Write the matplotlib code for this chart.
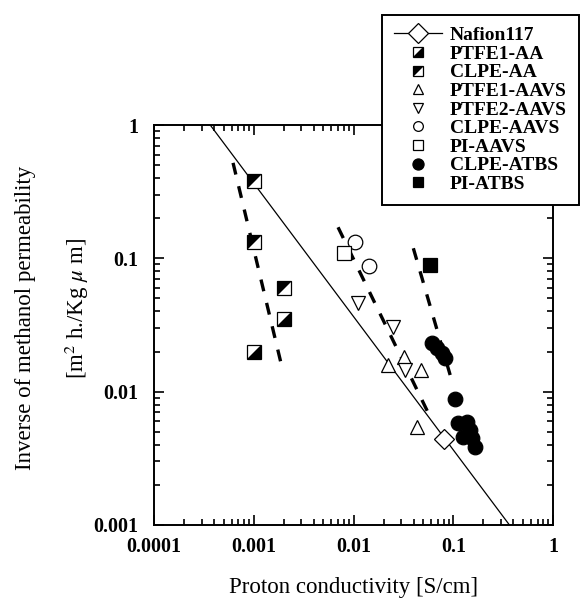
# Methanol permeability vs proton conductivity, log-log
import matplotlib
matplotlib.use('Agg')
import matplotlib.pyplot as plt
from matplotlib.lines import Line2D
from matplotlib.ticker import LogLocator, FixedLocator, NullFormatter

# measured points (x = proton conductivity [S/cm], y = inverse permeability)
nafion_x = [0.0807]
nafion_y = [0.00439]
ptfe1_aa_x = [0.002, 0.001]
ptfe1_aa_y = [0.035, 0.020]
clpe_aa_x = [0.001, 0.001, 0.002]
clpe_aa_y = [0.38, 0.132, 0.060]
ptfe1_aavs_x = [0.0223, 0.032, 0.048, 0.043]
ptfe1_aavs_y = [0.0158, 0.0183, 0.0145, 0.00546]
ptfe2_aavs_x = [0.0112, 0.0251, 0.0328]
ptfe2_aavs_y = [0.046, 0.0307, 0.0145]
clpe_aavs_x = [0.0104, 0.0143]
clpe_aavs_y = [0.133, 0.088]
pi_aavs_x = [0.0080]
pi_aavs_y = [0.109]
clpe_atbs_x = [0.0608, 0.0683, 0.0766, 0.0826, 0.104,
               0.112, 0.136, 0.147, 0.126, 0.153, 0.165]
clpe_atbs_y = [0.023, 0.0211, 0.0194, 0.0178, 0.00875,
               0.00578, 0.00594, 0.00515, 0.00459, 0.00447, 0.00386]
pi_atbs_x = [0.0585]
pi_atbs_y = [0.089]

# trend lines (end points)
nafion_fit_x = [0.000366, 0.366]
nafion_fit_y = [1.0, 0.001]
aa_trend_x = [0.00062, 0.00195]
aa_trend_y = [0.52, 0.0145]
aavs_trend_x = [0.0070, 0.0585]
aavs_trend_y = [0.171, 0.0065]
atbs_trend_x = [0.0398, 0.0964]
atbs_trend_y = [0.119, 0.0122]

xticks = [0.0001, 0.001, 0.01, 0.1, 1]
xticklabels = ['0.0001', '0.001', '0.01', '0.1', '1']
yticks = [0.001, 0.01, 0.1, 1]
yticklabels = ['0.001', '0.01', '0.1', '1']

plt.rcParams['font.family'] = ['Liberation Serif', 'DejaVu Serif']
plt.rcParams['mathtext.fontset'] = 'stix'

W, H = 581, 603
fig = plt.figure(figsize=(W / 100, H / 100), dpi=100)
ax = fig.add_axes([154 / W, 1 - 525 / H, (553 - 154) / W, (525 - 125) / H])

ax.set_xscale('log')
ax.set_yscale('log')
ax.set_xlim(1e-4, 1)
ax.set_ylim(1e-3, 1)

ms = 10.5
mew = 0.9
upper_left = [(-1, -1), (1, 1), (-1, 1)]
lower_right = [(-1, -1), (1, -1), (1, 1)]

# fit and trend lines
ax.plot(nafion_fit_x, nafion_fit_y, '-', color='black', lw=0.9, zorder=2)
for tx, ty in [(aa_trend_x, aa_trend_y), (aavs_trend_x, aavs_trend_y),
               (atbs_trend_x, atbs_trend_y)]:
    ln, = ax.plot(tx, ty, color='black', lw=2.4, zorder=2,
                  solid_capstyle='butt', dash_capstyle='butt')
    ln.set_dashes([3.6, 3.6])


def half_square(x, y, fill_path, size):
    ax.plot(x, y, 's', ms=size, mfc='white', mec='black', mew=mew,
            ls='none', zorder=3)
    ax.plot(x, y, marker=fill_path, ms=size, mfc='black', mec='black',
            mew=0, ls='none', zorder=4)


half_square(ptfe1_aa_x, ptfe1_aa_y, lower_right, ms)
half_square(clpe_aa_x, clpe_aa_y, upper_left, ms)

ax.plot(nafion_x, nafion_y, 'D', ms=10, mfc='white', mec='black',
        mew=mew, ls='none', zorder=5)
ax.plot(ptfe1_aavs_x, ptfe1_aavs_y, '^', ms=ms, mfc='white', mec='black',
        mew=mew, ls='none', zorder=3)
ax.plot(ptfe2_aavs_x, ptfe2_aavs_y, 'v', ms=ms, mfc='white', mec='black',
        mew=mew, ls='none', zorder=3)
ax.plot(clpe_aavs_x, clpe_aavs_y, 'o', ms=ms, mfc='white', mec='black',
        mew=mew, ls='none', zorder=3)
ax.plot(pi_aavs_x, pi_aavs_y, 's', ms=ms, mfc='white', mec='black',
        mew=mew, ls='none', zorder=3)
ax.plot(clpe_atbs_x, clpe_atbs_y, 'o', ms=ms, mfc='black', mec='black',
        mew=mew, ls='none', zorder=3)
ax.plot(pi_atbs_x, pi_atbs_y, 's', ms=ms, mfc='black', mec='black',
        mew=mew, ls='none', zorder=3)

# ticks
ax.xaxis.set_major_locator(FixedLocator(xticks))
ax.set_xticklabels(xticklabels)
ax.yaxis.set_major_locator(FixedLocator(yticks))
ax.set_yticklabels(yticklabels)
ax.xaxis.set_minor_locator(LogLocator(base=10, subs=range(2, 10)))
ax.yaxis.set_minor_locator(LogLocator(base=10, subs=range(2, 10)))
ax.xaxis.set_minor_formatter(NullFormatter())
ax.yaxis.set_minor_formatter(NullFormatter())
ax.tick_params(which='both', direction='in', top=True, right=True,
               width=1.2, colors='black')
ax.tick_params(which='major', length=7, labelsize=14.5)
ax.tick_params(axis='y', which='major', pad=11)
ax.tick_params(axis='x', which='major', pad=9)
ax.tick_params(which='minor', length=4)
for lab in ax.get_xticklabels() + ax.get_yticklabels():
    lab.set_fontweight('bold')
for sp in ax.spines.values():
    sp.set_linewidth(1.4)

fig.text(0.5 * (154 + 553) / W, 1 - 588 / H, 'Proton conductivity [S/cm]',
         ha='center', va='center', fontsize=16.5)
fig.text(26 / W, 1 - 318 / H, 'Inverse of methanol permeability',
         ha='center', va='center', rotation=90, fontsize=16.5)
fig.text(77 / W, 1 - 308 / H, r'[m$^{2}$ h./Kg $\mu$ m]',
         ha='center', va='center', rotation=90, fontsize=16.5)

# legend
lms = 7
def sq(mfc):
    return Line2D([], [], marker='s', ms=lms, mfc=mfc, mec='black',
                  mew=mew, ls='none')


def tri(path):
    return Line2D([], [], marker=path, ms=lms, mfc='black', mec='black',
                  mew=0, ls='none')


handles = [
    Line2D([], [], ls='-', lw=0.9, color='black', marker='D', ms=10,
           mfc='white', mec='black', mew=mew),
    (sq('white'), tri(lower_right)),
    (sq('white'), tri(upper_left)),
    Line2D([], [], marker='^', ms=lms, mfc='white', mec='black', mew=mew, ls='none'),
    Line2D([], [], marker='v', ms=lms, mfc='white', mec='black', mew=mew, ls='none'),
    Line2D([], [], marker='o', ms=lms, mfc='white', mec='black', mew=mew, ls='none'),
    Line2D([], [], marker='s', ms=lms, mfc='white', mec='black', mew=mew, ls='none'),
    Line2D([], [], marker='o', ms=lms + 1, mfc='black', mec='black', mew=mew, ls='none'),
    Line2D([], [], marker='s', ms=lms, mfc='black', mec='black', mew=mew, ls='none'),
]
labels = ['Nafion117', 'PTFE1-AA', 'CLPE-AA', 'PTFE1-AAVS', 'PTFE2-AAVS',
          'CLPE-AAVS', 'PI-AAVS', 'CLPE-ATBS', 'PI-ATBS']
leg = fig.legend(handles, labels, loc='upper left',
                 bbox_to_anchor=(382 / W, 1 - 15 / H),
                 frameon=True, fancybox=False, edgecolor='black',
                 framealpha=1, borderaxespad=0, handlelength=2.5,
                 handletextpad=0.4, labelspacing=0.05, borderpad=0.6,
                 prop={'weight': 'bold', 'size': 14})
leg.get_frame().set_linewidth(1.4)

fig.savefig('out.png', dpi=100)
